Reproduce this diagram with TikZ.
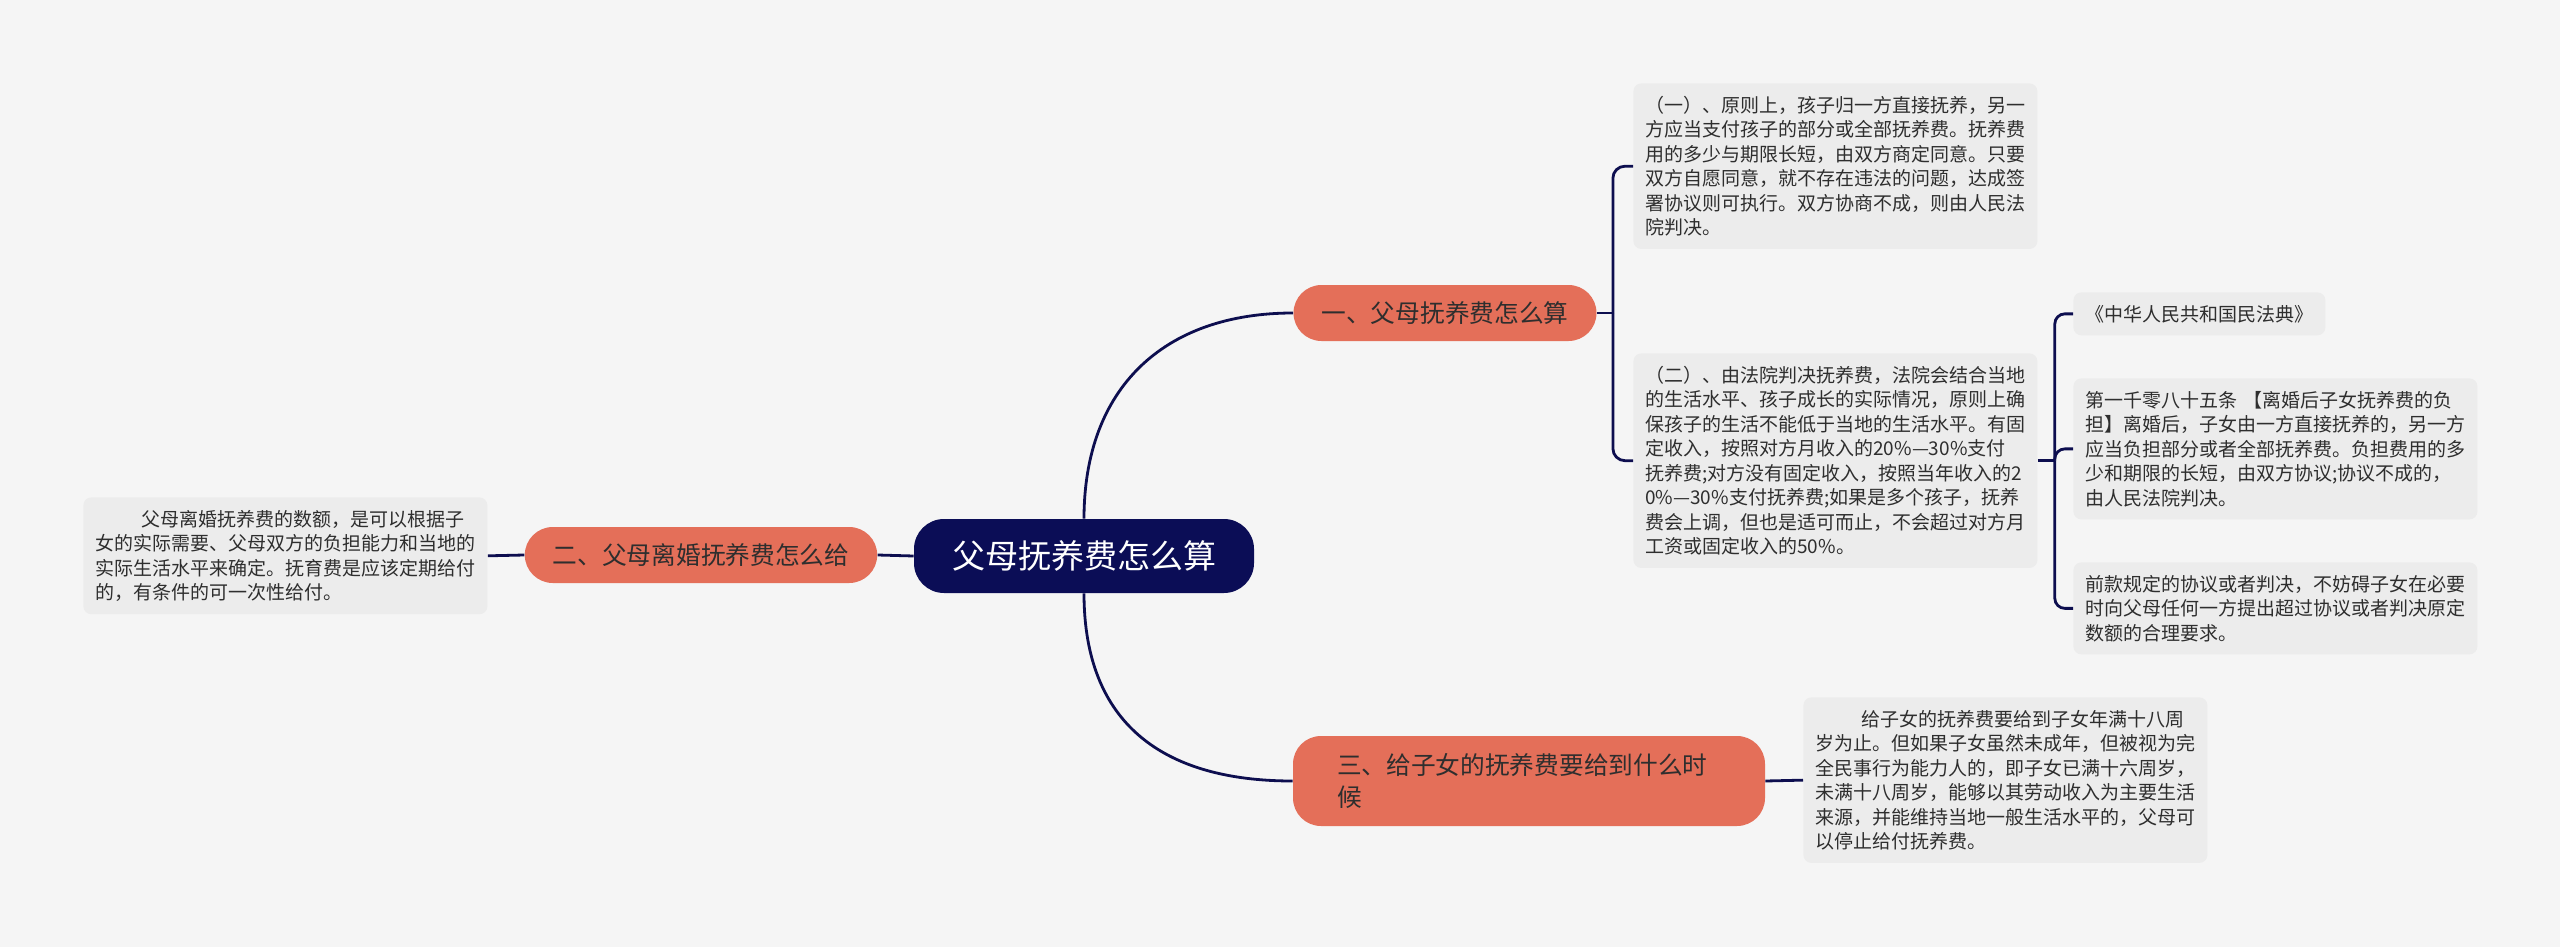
\documentclass[tikz,border=0pt]{standalone}
\usepackage{fontspec}
\setmainfont{Noto Sans CJK SC}[Kerning=Off]
\usetikzlibrary{calc}

\definecolor{bgcol}{HTML}{F5F5F5}
\definecolor{leafcol}{HTML}{ECECEC}
\definecolor{rootcol}{HTML}{0B0D56}
\definecolor{topiccol}{HTML}{E46F59}
\definecolor{linkcol}{HTML}{0D0E4F}
\definecolor{txtcol}{HTML}{2E2E2E}

\begin{document}
\begin{tikzpicture}[
  x=0.5pt, y=-0.5pt,
  rootbox/.style={fill=rootcol, text=white, rounded corners=15pt, inner xsep=19pt,
    minimum height=37pt, font=\fontsize{16.5}{20}\selectfont},
  topic/.style={fill=topiccol, text=txtcol, rounded corners=14pt, inner xsep=14pt,
    minimum height=28pt, font=\fontsize{12.35}{16}\selectfont},
  leaf/.style={fill=leafcol, text=txtcol, rounded corners=4pt, inner xsep=6pt, inner ysep=6.3pt,
    align=left, anchor=north west, font=\fontsize{9.5}{12.25}\selectfont},
  leafwide/.style={leaf, text width=190pt},
  link/.style={draw=linkcol, line width=1.4pt}
]
  \fill[bgcol] (0,0) rectangle (2560,947);
  \useasboundingbox (0,0) rectangle (2560,947);

  \node[rootbox] (root) at (1084,556) {父母抚养费怎么算};
  \node[topic] (t1) at (1445,313) {一、父母抚养费怎么算};
  \node[topic] (t2) at (701,555) {二、父母离婚抚养费怎么给};
  \node[topic, text width=192pt, inner xsep=22pt, align=left, minimum height=45pt] (t3) at (1529,781)
    {三、给子女的抚养费要给到什么时\\候};

  \node[leafwide] (l1a) at (1633,83) {（一）、原则上，孩子归一方直接抚养，另一\\
    方应当支付孩子的部分或全部抚养费。抚养费\\
    用的多少与期限长短，由双方商定同意。只要\\
    双方自愿同意，就不存在违法的问题，达成签\\
    署协议则可执行。双方协商不成，则由人民法\\
    院判决。};
  \node[leafwide] (l1b) at (1633,353) {（二）、由法院判决抚养费，法院会结合当地\\
    的生活水平、孩子成长的实际情况，原则上确\\
    保孩子的生活不能低于当地的生活水平。有固\\
    定收入，按照对方月收入的20\%—30\%支付\\
    抚养费;对方没有固定收入，按照当年收入的2\\
    0\%—30\%支付抚养费;如果是多个孩子，抚养\\
    费会上调，但也是适可而止，不会超过对方月\\
    工资或固定收入的50\%。};
  \node[leaf] (law) at (2073,292) {《中华人民共和国民法典》};
  \node[leafwide] (art) at (2073,378) {第一千零八十五条 【离婚后子女抚养费的负\\
    担】离婚后，子女由一方直接抚养的，另一方\\
    应当负担部分或者全部抚养费。负担费用的多\\
    少和期限的长短，由双方协议;协议不成的，\\
    由人民法院判决。};
  \node[leafwide] (req) at (2073,562) {前款规定的协议或者判决，不妨碍子女在必要\\
    时向父母任何一方提出超过协议或者判决原定\\
    数额的合理要求。};
  \node[leafwide] (l2) at (83,497) {\hspace*{23pt}父母离婚抚养费的数额，是可以根据子\\
    女的实际需要、父母双方的负担能力和当地的\\
    实际生活水平来确定。抚育费是应该定期给付\\
    的，有条件的可一次性给付。};
  \node[leafwide] (l3) at (1803,697) {\hspace*{23pt}给子女的抚养费要给到子女年满十八周\\
    岁为止。但如果子女虽然未成年，但被视为完\\
    全民事行为能力人的，即子女已满十六周岁，\\
    未满十八周岁，能够以其劳动收入为主要生活\\
    来源，并能维持当地一般生活水平的，父母可\\
    以停止给付抚养费。};

  \coordinate (s1) at ([xshift=8pt]t1.east);
  \coordinate (s2) at ([xshift=8.5pt]l1b.east);

  \draw[link] (root.north) .. controls +(0,-130) and +(-130,0) .. (t1.west);
  \draw[link] (root.south) .. controls +(0,130) and +(-130,0) .. (t3.west);
  \draw[link] (root.west) -- (t2.east);
  \draw[link] (t2.west) -- (l2.east);
  \draw[link] (t3.east) -- (l3.west);
  \draw[link] (t1.east) -- (s1);
  \draw[link, rounded corners=6pt] (s1) |- (l1a.west);
  \draw[link, rounded corners=6pt] (s1) |- (l1b.west);
  \draw[link] (l1b.east) -- (s2);
  \draw[link, rounded corners=5pt] (s2) |- (law.west);
  \draw[link, rounded corners=5pt] (s2) |- (art.west);
  \draw[link, rounded corners=5pt] (s2) |- (req.west);
\end{tikzpicture}
\end{document}
